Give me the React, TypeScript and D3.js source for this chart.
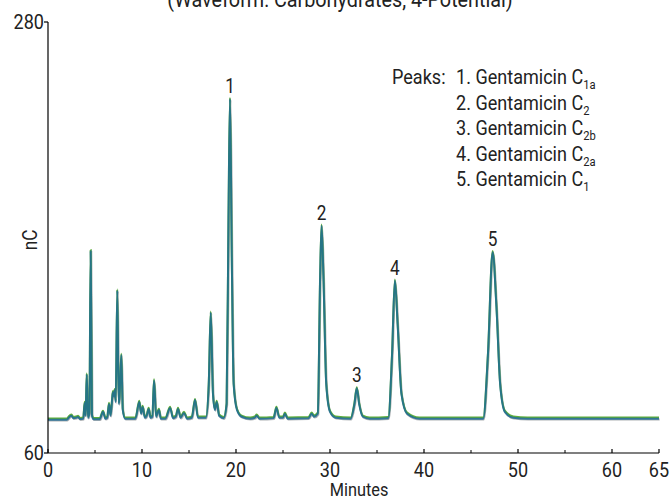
import * as d3 from 'd3';

// chromatogram trace: [minutes, nC]
const trace: [number, number][] = [
  [0, 77], [2.0, 77], [2.3, 78.5], [2.5, 79], [2.7, 77.8], [3.0, 78], [3.2, 78.4], [3.4, 77.3],
  [3.75, 77.5], [3.9, 85.5], [4.0, 79], [4.12, 100], [4.25, 78], [4.4, 80], [4.54, 163], [4.68, 79],
  [4.85, 77.2], [5.5, 77.2], [5.85, 81], [6.1, 77.5], [6.3, 78], [6.49, 85], [6.65, 79], [6.8, 86],
  [6.9, 91], [7.0, 89], [7.1, 92], [7.2, 86], [7.37, 143], [7.52, 85], [7.6, 88], [7.8, 110],
  [7.95, 82], [8.2, 77.5], [9.3, 77.5], [9.71, 86], [9.9, 80], [10.07, 83.5], [10.3, 78], [10.5, 79],
  [10.71, 82.5], [10.9, 78], [11.1, 78.5], [11.28, 97], [11.5, 78.5], [11.8, 82], [12.0, 77.5],
  [12.5, 77.5], [12.98, 83], [13.3, 77.8], [13.6, 78.5], [13.83, 82.5], [14.1, 78], [14.47, 80.4],
  [14.8, 77.5], [15.3, 78], [15.64, 87], [15.95, 78], [16.8, 78], [17.1, 95], [17.31, 131.6],
  [17.55, 90], [17.75, 82], [17.95, 86], [18.2, 79], [18.7, 77.8], [19.0, 85], [19.2, 180],
  [19.36, 240.7], [19.55, 160], [19.75, 95], [20.1, 82], [20.6, 78.5], [21.5, 77.5], [22.0, 78],
  [22.2, 79], [22.5, 77.5], [24.0, 77.8], [24.3, 83], [24.6, 78], [25.0, 78], [25.2, 80], [25.5, 77.5],
  [27.7, 77.7], [28.05, 80], [28.3, 78.5], [28.7, 80], [28.95, 150], [29.1, 176], [29.3, 150],
  [29.6, 95], [30.0, 81], [30.6, 78], [32.2, 77.5], [32.6, 85], [32.85, 93], [33.1, 85], [33.5, 78.5],
  [34.2, 77.5], [36.2, 77.8], [36.6, 110], [36.9, 148], [37.2, 125], [37.6, 90], [38.2, 80],
  [39.5, 77.5], [46.3, 77.5], [46.8, 110], [47.3, 162.5], [47.7, 135], [48.1, 95], [48.6, 81],
  [49.5, 78], [51, 77.5], [65, 77.5],
];

const peakLabels = ['1', '2', '3', '4', '5'];
const peakTimes = [19.36, 29.1, 32.85, 36.9, 47.3];
const peakHeights = [240.7, 176, 93, 148, 162.5];

const legendNames = ['1. Gentamicin C', '2. Gentamicin C', '3. Gentamicin C', '4. Gentamicin C', '5. Gentamicin C'];
const legendSubs = ['1a', '2', '2b', '2a', '1'];

const xMajor = [0, 10, 20, 30, 40, 50, 60, 65];
const xMinor = [5, 15, 25, 35, 45, 55];
const yTicks = [60, 280];

const W = 671;
const H = 498;
const font = 'Roboto, sans-serif';
const SX = 0.86; // condensed look

// text squeezed horizontally to look like a condensed face
function T({ x, y, size = 21, anchor = 'start', sx = SX, rotate = 0, children }: any) {
  return (
    <g transform={`translate(${x},${y}) rotate(${rotate})`}>
      <text transform={`scale(${sx},1)`} textAnchor={anchor} fontSize={size}>{children}</text>
    </g>
  );
}

export default function App() {
  const x = d3.scaleLinear().domain([0, 65]).range([48, 659]);
  const y = d3.scaleLinear().domain([60, 280]).range([453, 22]);

  const line = d3.line<[number, number]>()
    .x(d => x(d[0]))
    .y(d => y(d[1]))
    .curve(d3.curveMonotoneX);
  const path = line(trace) ?? '';

  return (
    <svg width={W} height={H} style={{ position: 'absolute', left: 0, top: 0, background: '#fff' }}
      fontFamily={font} fill="#222">
      <T x={340} y={7} size={22} sx={0.9} anchor="middle">(Waveform: Carbohydrates, 4-Potential)</T>

      {/* traces */}
      <path d={path} fill="none" stroke="#7a7f84" strokeWidth={2} transform="translate(0.6,0.8)" opacity={0.6} />
      <path d={path} fill="none" stroke="#5fae3c" strokeWidth={2} transform="translate(0,-1.2)" />
      <path d={path} fill="none" stroke="#1c6b93" strokeWidth={2} opacity={0.85} />

      {/* axes */}
      <line x1={x(0)} x2={x(0)} y1={y(280)} y2={y(60)} stroke="#000" strokeWidth={1.2} />
      <line x1={x(0)} x2={x(65)} y1={y(60)} y2={y(60)} stroke="#000" strokeWidth={1.2} />
      {yTicks.map(t => (
        <g key={t}>
          <line x1={x(0) - 4} x2={x(0)} y1={y(t)} y2={y(t)} stroke="#000" strokeWidth={1.2} />
          <T x={x(0) - 4} y={y(t) + 7} anchor="end">{t}</T>
        </g>
      ))}
      {xMajor.map(t => (
        <g key={t}>
          <line x1={x(t)} x2={x(t)} y1={y(60)} y2={y(60) - 4} stroke="#000" strokeWidth={1.2} />
          <T x={x(t)} y={y(60) + 24} anchor="middle">{t}</T>
        </g>
      ))}
      {xMinor.map(t => (
        <line key={t} x1={x(t)} x2={x(t)} y1={y(60)} y2={y(60) - 3} stroke="#000" strokeWidth={1} />
      ))}
      <T x={359} y={496} size={19} anchor="middle">Minutes</T>
      <T x={37} y={240} size={20} anchor="middle" rotate={-90}>nC</T>

      {/* peak labels */}
      {peakLabels.map((l, i) => (
        <T key={l} x={x(peakTimes[i])} y={y(peakHeights[i]) - 6} size={20} anchor="middle">{l}</T>
      ))}

      {/* legend */}
      <T x={392} y={84}>Peaks:</T>
      {legendNames.map((n, i) => (
        <T key={i} x={456} y={84 + i * 25.5}>
          {n}
          <tspan fontSize={13} dy={5}>{legendSubs[i]}</tspan>
        </T>
      ))}
    </svg>
  );
}
